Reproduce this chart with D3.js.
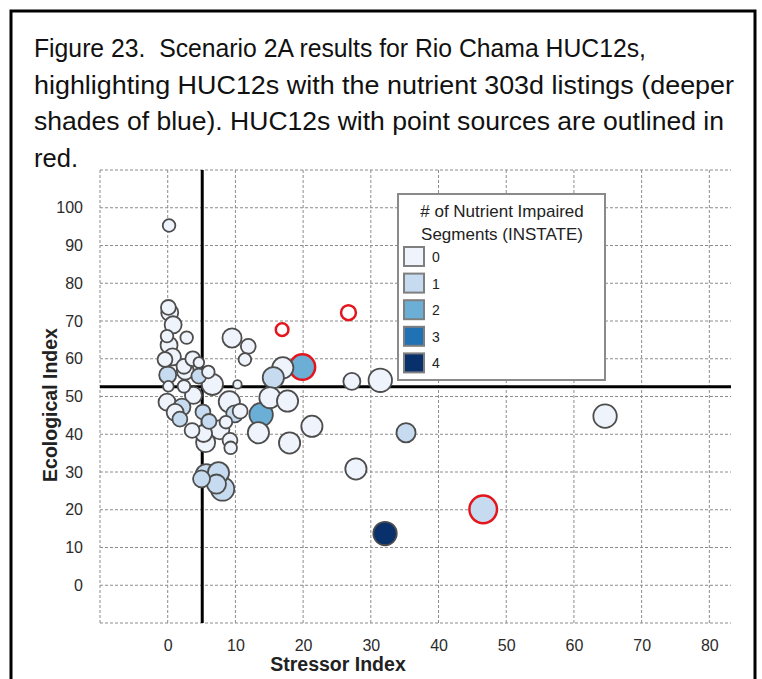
<!DOCTYPE html>
<html>
<head>
<meta charset="utf-8">
<script src="https://cdn.jsdelivr.net/npm/d3@7"></script>
<style>
  body { margin: 0; background: #fff; }
  svg { display: block; font-family: "Liberation Sans", Arial, sans-serif; }
  .grid line { stroke: #8c8c8c; stroke-width: 1; stroke-dasharray: 3,2; }
</style>
</head>
<body>
<div id="container"></div>
<script>
// title lines of the figure caption
const titleLines = [
  "Figure 23.  Scenario 2A results for Rio Chama HUC12s,",
  "highlighting HUC12s with the nutrient 303d listings (deeper",
  "shades of blue). HUC12s with point sources are outlined in",
  "red."
];

// bubbles: stressor index, ecological index, bubble weight, # impaired segments, point source
const stressor = [0.2, 0.1, 0.3, 0.8, 2.8, -0.1, 0.2, 0.7, -0.4, 2.4, 3.7, 4.6, 0, 2.6, 4.6, 6,
  0.1, 2.4, 6.6, 10.3, 3.8, -0.1, 2.1, 1.1, 1.8, 5.2, 6.1, 3.6, 5.3, 5.6, 7.7, 8.6, 9.1, 9.9,
  10.7, 9.2, 9.3, 9.5, 11.9, 11.4, 16.9, 26.7, 19.9, 17, 15.6, 27.2, 31.4, 15.1, 17.7, 13.8,
  13.4, 21.3, 18, 27.8, 5.7, 7.5, 5, 7.2, 8.1, 32.1, 35.2, 64.6, 46.6];
const ecological = [95.3, 73.6, 72.2, 69, 65.6, 66, 63.6, 60.5, 59.8, 58, 60, 59, 55.7, 56.7, 55.4, 56.5,
  52.7, 52.7, 53.2, 53.2, 50.3, 48.5, 47.2, 45.8, 44, 45.9, 43.4, 41, 40.2, 37.8, 41.2, 43.2, 48.6, 45.4,
  46.1, 38.4, 36.4, 65.5, 63.3, 59.8, 67.7, 72.2, 57.8, 57.6, 55, 54, 54.3, 49.7, 48.8, 45.2,
  40.4, 42.1, 37.7, 30.8, 29.3, 29.8, 28.2, 26.8, 25.5, 13.7, 40.4, 44.8, 20.1];
const weight = [21, 29, 38, 38, 21, 21, 38, 38, 29, 29, 29, 15, 38, 38, 29, 21,
  15, 21, 59, 9.5, 38, 38, 38, 38, 29, 29, 29, 29, 38, 48, 48, 21, 59, 38,
  29, 29, 21, 48, 29, 21, 21, 29, 85, 59, 59, 38, 72, 59, 59, 72,
  59, 59, 59, 59, 59, 59, 38, 48, 72, 72, 48, 72, 100];
const impaired = [0, 0, 0, 0, 0, 0, 0, 0, 0, 0, 0, 0, 1, 0, 1, 0,
  0, 0, 0, 0, 0, 0, 1, 0, 1, 1, 1, 0, 0, 0, 0, 0, 0, 1,
  0, 0, 0, 0, 0, 0, null, null, 2, 0, 1, 0, 0, 0, 0, 2,
  0, 0, 0, 0, 1, 1, 1, 1, 1, 4, 1, 0, 1];
const pointSource = [0, 0, 0, 0, 0, 0, 0, 0, 0, 0, 0, 0, 0, 0, 0, 0,
  0, 0, 0, 0, 0, 0, 0, 0, 0, 0, 0, 0, 0, 0, 0, 0, 0, 0,
  0, 0, 0, 0, 0, 0, 1, 1, 1, 0, 0, 0, 0, 0, 0, 0,
  0, 0, 0, 0, 0, 0, 0, 0, 0, 0, 0, 0, 1];

// quadrant threshold lines
const stressorThreshold = 5.1;
const ecologicalThreshold = 52.6;

// axis ticks
const xTicks = [0, 10, 20, 30, 40, 50, 60, 70, 80];
const yTicks = [0, 10, 20, 30, 40, 50, 60, 70, 80, 90, 100];
const xGrid = [-10, 0, 10, 20, 30, 40, 50, 60, 70, 80];
const yGrid = [-10, 0, 10, 20, 30, 40, 50, 60, 70, 80, 90, 100, 110];

// legend
const legendTitle = ["# of Nutrient Impaired", "Segments (INSTATE)"];
const legendKeys = [0, 1, 2, 3, 4];
const blues = ["#eff3fb", "#c6dbef", "#6baed6", "#2171b5", "#08306b"];

const width = 762, height = 679;
const plotL = 100, plotR = 731, plotT = 170, plotB = 623;

const svg = d3.select("#container")
  .append("svg")
  .attr("width", width)
  .attr("height", height);

// outer frame
svg.append("rect")
  .attr("x", 11).attr("y", 11)
  .attr("width", 744).attr("height", 720)
  .attr("fill", "none")
  .attr("stroke", "#000")
  .attr("stroke-width", 3);

// caption
const titleWidths = [612, 700, 690, 44];
svg.append("g").selectAll("text")
  .data(titleLines)
  .enter()
  .append("text")
  .attr("x", 34)
  .attr("y", (d, i) => 57 + i * 36.5)
  .attr("font-size", 26)
  .attr("fill", "#111")
  .attr("xml:space", "preserve")
  .style("white-space", "pre")
  .attr("textLength", (d, i) => titleWidths[i])
  .attr("lengthAdjust", "spacingAndGlyphs")
  .text(d => d);

// scales
const x = d3.scaleLinear().domain([-10, 83.2]).range([plotL, plotR]);
const y = d3.scaleLinear().domain([-10, 110]).range([plotB, plotT]);
const r = d3.scaleSqrt().domain([0, 100]).range([0, 13.8]);
const color = d3.scaleOrdinal().domain(legendKeys).range(blues);

// gridlines
const grid = svg.append("g").attr("class", "grid");
grid.selectAll(".v")
  .data(xGrid)
  .enter()
  .append("line")
  .attr("x1", d => x(d)).attr("x2", d => x(d))
  .attr("y1", plotT).attr("y2", plotB);
grid.selectAll(".h")
  .data(yGrid)
  .enter()
  .append("line")
  .attr("x1", plotL).attr("x2", plotR)
  .attr("y1", d => y(d)).attr("y2", d => y(d));

// axes (labels only)
const xAxis = d3.axisBottom(x).tickValues(xTicks).tickSize(0).tickPadding(0);
svg.append("g")
  .attr("transform", "translate(0,640)")
  .call(xAxis)
  .attr("font-size", 16)
  .attr("font-family", null)
  .call(g => g.select(".domain").remove())
  .call(g => g.selectAll(".tick text").attr("fill", "#2b2b2b"));

const yAxis = d3.axisLeft(y).tickValues(yTicks).tickSize(0).tickPadding(0);
svg.append("g")
  .attr("transform", "translate(83,0)")
  .call(yAxis)
  .attr("font-size", 16)
  .attr("font-family", null)
  .call(g => g.select(".domain").remove())
  .call(g => g.selectAll(".tick text").attr("fill", "#2b2b2b"));

// threshold lines
svg.append("line")
  .attr("x1", x(stressorThreshold)).attr("x2", x(stressorThreshold))
  .attr("y1", plotT).attr("y2", plotB)
  .attr("stroke", "#000").attr("stroke-width", 3);
svg.append("line")
  .attr("x1", plotL).attr("x2", plotR)
  .attr("y1", y(ecologicalThreshold)).attr("y2", y(ecologicalThreshold))
  .attr("stroke", "#000").attr("stroke-width", 3);

// bubbles
const points = stressor.map((d, i) => ({
  s: d, e: ecological[i], w: weight[i], n: impaired[i], ps: pointSource[i]
}));
points.sort((a, b) => b.w - a.w);

svg.append("g").selectAll("circle")
  .data(points)
  .enter()
  .append("circle")
  .attr("cx", d => x(d.s))
  .attr("cy", d => y(d.e))
  .attr("r", d => r(d.w))
  .attr("fill", d => d.n === null ? "#fff" : color(d.n))
  .attr("stroke", d => d.ps ? "#e3161d" : "#4d4d4d")
  .attr("stroke-width", d => d.ps ? 2.5 : 1.8);

// axis titles
svg.append("text")
  .attr("x", 338).attr("y", 671)
  .attr("text-anchor", "middle")
  .attr("font-weight", "bold")
  .attr("font-size", 19.5)
  .attr("fill", "#222")
  .text("Stressor Index");

svg.append("text")
  .attr("transform", "translate(57,405) rotate(-90)")
  .attr("text-anchor", "middle")
  .attr("font-weight", "bold")
  .attr("font-size", 19.5)
  .attr("fill", "#222")
  .text("Ecological Index");

// legend
const legend = svg.append("g").attr("id", "legend");
legend.append("rect")
  .attr("x", 398).attr("y", 194)
  .attr("width", 207).attr("height", 186)
  .attr("fill", "#fff")
  .attr("stroke", "#8a8a8a")
  .attr("stroke-width", 2);

legend.selectAll(".lt")
  .data(legendTitle)
  .enter()
  .append("text")
  .attr("x", 502)
  .attr("y", (d, i) => 217 + i * 23)
  .attr("text-anchor", "middle")
  .attr("font-size", 17)
  .attr("fill", "#222")
  .text(d => d);

const rows = legend.selectAll(".row")
  .data(legendKeys)
  .enter()
  .append("g")
  .attr("transform", (d, i) => "translate(404," + (247 + i * 26.6) + ")");
rows.append("rect")
  .attr("width", 20).attr("height", 19)
  .attr("fill", d => color(d))
  .attr("stroke", "#7f7f7f")
  .attr("stroke-width", 2);
rows.append("text")
  .attr("x", 28).attr("y", 15)
  .attr("font-size", 14)
  .attr("fill", "#222")
  .text(d => d);
</script>
</body>
</html>
